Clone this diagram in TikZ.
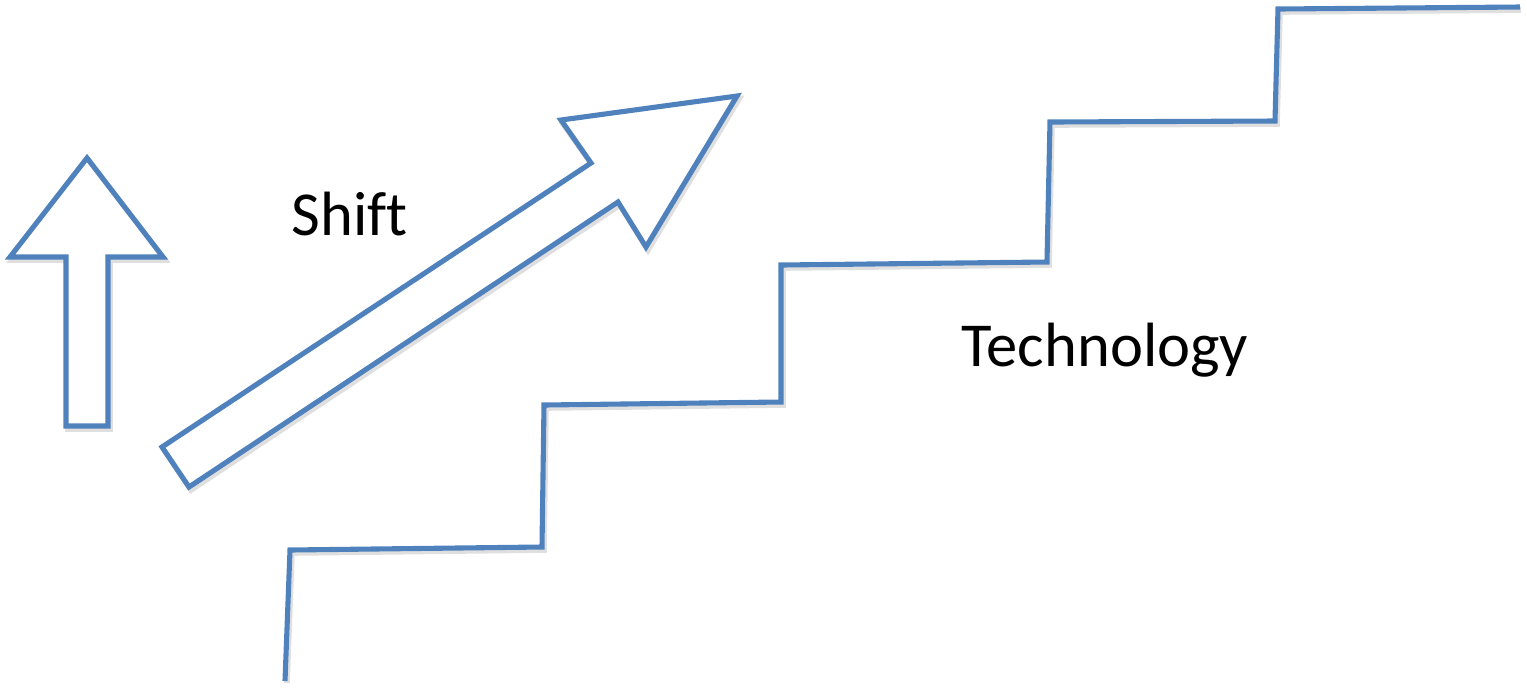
\documentclass[tikz,border=0pt]{standalone}
\usepackage{fontspec}
\setmainfont{Carlito}[Ligatures=NoCommon]
\usepackage{tikz}
\usetikzlibrary{positioning}
\definecolor{myblue}{RGB}{79,129,189}
\definecolor{myshade}{RGB}{150,150,150}
\tikzset{
  outline/.style={draw=myblue, line width=1.45pt, line join=miter, fill=white},
  stairline/.style={draw=myblue, line width=1.45pt, line join=miter},
  shade/.style={draw=myshade, line width=1.6pt, opacity=0.3},
  lbl/.style={font=\fontsize{17.8pt}{20pt}\selectfont, text=black, inner sep=0pt}
}
\begin{document}
\begin{tikzpicture}[x=0.1mm, y=-0.1mm]
\useasboundingbox (0,0) rectangle (1527,688);
% up arrow
\draw[shade] (89,161) -- (12,260) -- (68,260) -- (68,429) -- (110,429) -- (110,260) -- (165,260) -- cycle;
\draw[outline] (87,158) -- (10,257) -- (66,257) -- (66,426) -- (108,426) -- (108,257) -- (163,257) -- cycle;
% diagonal arrow
\draw[shade] (164,450) -- (593,166) -- (563,124) -- (739,99) -- (648,250) -- (620,205) -- (191,490) -- cycle;
\draw[outline] (162,447) -- (591,163) -- (561,120) -- (737,96) -- (646,247) -- (618,202) -- (189,487) -- cycle;
% stairs
\draw[shade] (287,683) -- (292,553) -- (544,550) -- (546,408) -- (783,405) -- (783,268)
  -- (1049,265) -- (1052,125) -- (1277,124) -- (1280,12) -- (1521,10);
\draw[stairline] (285,681) -- (290,550) -- (542,547) -- (544,405) -- (781,402) -- (781,265)
  -- (1047,262) -- (1050,122) -- (1275,121) -- (1278,9) -- (1520,7);
% labels
\node[lbl, anchor=base] (shift) at (350,235) {Shift};
\node[lbl, anchor=base] (tech) at (1105,366) {Technology};
\end{tikzpicture}
\end{document}
